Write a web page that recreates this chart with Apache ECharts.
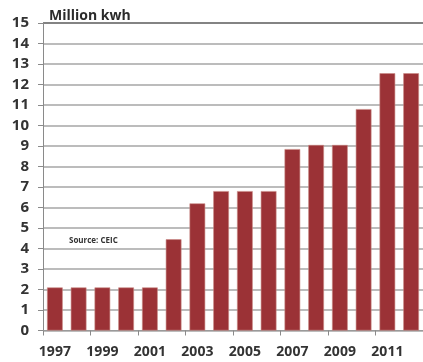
<!DOCTYPE html>
<html>
<head>
<meta charset="utf-8">
<script src="https://cdn.jsdelivr.net/npm/echarts@6/dist/echarts.min.js"></script>
<style>
  html, body { margin: 0; padding: 0; background: #fff; overflow: hidden; }
  #chart { width: 423px; height: 362px; }
</style>
</head>
<body>
<div id="chart"></div>
<script>
// Annual electricity figures, million kWh
const years = ['1997','1998','1999','2000','2001','2002','2003','2004',
               '2005','2006','2007','2008','2009','2010','2011','2012'];
const consumption = [2.1, 2.1, 2.1, 2.1, 2.1, 4.45, 6.2, 6.8,
                     6.8, 6.8, 8.85, 9.05, 9.05, 10.8, 12.55, 12.55];
const yTicks = [0, 15, 1]; // min, max, step
const unitLabel = 'Million kwh';
const sourceNote = 'Source: CEIC';

const FONT = '"Open Sans", "Liberation Sans", sans-serif';
const BAR = '#9b3236';

// 15 ordinary gridlines plus a darker one at the top
const gridColors = [];
for (let i = 0; i < 15; i++) gridColors.push('#a6a6a6');
gridColors.push('#5a5a5a');

const chart = echarts.init(document.getElementById('chart'), null, { renderer: 'canvas' });
chart.setOption({
  animation: false,
  backgroundColor: '#ffffff',
  grid: { left: 43, right: -6, top: 23, bottom: 31.5, containLabel: false },
  title: [
    {
      text: unitLabel, left: 44, top: 4,
      textStyle: { fontFamily: FONT, fontSize: 14, fontWeight: 700, color: '#2b2b2b' }
    },
    {
      text: sourceNote, left: 64, top: 232,
      textStyle: { fontFamily: FONT, fontSize: 8, fontWeight: 700, color: '#333',
                   letterSpacing: -0.3 }
    }
  ],
  xAxis: {
    type: 'category',
    data: years,
    boundaryGap: true,
    axisLine: { show: true, lineStyle: { color: '#9a9a9a', width: 1 } },
    axisTick: { show: true, interval: 1, length: 5, alignWithLabel: false,
                lineStyle: { color: '#8a8a8a' } },
    axisLabel: { interval: 1, margin: 15, fontFamily: FONT, fontSize: 14,
                 fontWeight: 700, color: '#333' },
    splitLine: { show: false }
  },
  yAxis: {
    type: 'value',
    min: yTicks[0], max: yTicks[1], interval: yTicks[2],
    axisLine: { show: true, lineStyle: { color: '#8a8a8a', width: 1 } },
    axisTick: { show: true, length: 5, lineStyle: { color: '#8a8a8a' } },
    axisLabel: { margin: 14, fontFamily: FONT, fontSize: 15, fontWeight: 700, color: '#333' },
    splitLine: { show: true, lineStyle: { color: gridColors, width: 1.5 } }
  },
  series: [{
    type: 'bar',
    data: consumption,
    barWidth: '66%',
    itemStyle: { color: BAR, borderColor: '#c98a84', borderWidth: 0.6 }
  }]
});
</script>
</body>
</html>
